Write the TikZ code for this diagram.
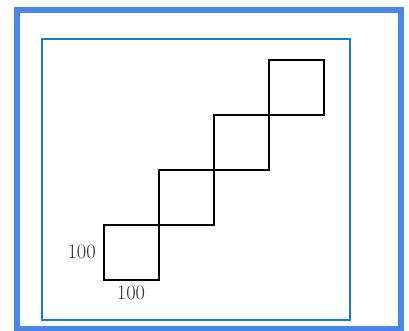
\documentclass[tikz,border=0pt]{standalone}
\definecolor{outerblue}{HTML}{4A86E8}
\definecolor{innerblue}{HTML}{1C78C8}
\definecolor{txt}{HTML}{333333}
\begin{document}
\begin{tikzpicture}[x=1pt,y=-1pt,
  outerframe/.style={draw=outerblue,line width=6pt},
  innerframe/.style={draw=innerblue,line width=2pt},
  sq/.style={draw=black,line width=2.4pt,minimum size=55pt,inner sep=0pt,outer sep=0pt},
  lbl/.style={text=txt,font=\fontsize{20.5}{24}\selectfont,inner sep=0pt}]
\useasboundingbox (0,0) rectangle (409,331);
\draw[outerframe] (17,10) rectangle (401,329);
\draw[innerframe] (42,39) rectangle (350,320);
\node[sq] (s1) at (131.5,252.5) {};
\node[sq] (s2) at (186.5,197.5) {};
\node[sq] (s3) at (241.5,142.5) {};
\node[sq] (s4) at (296.5,87.5) {};
\node[lbl,anchor=east] (l1) at (96,252) {100};
\node[lbl] (l2) at (131,293) {100};
\end{tikzpicture}
\end{document}
